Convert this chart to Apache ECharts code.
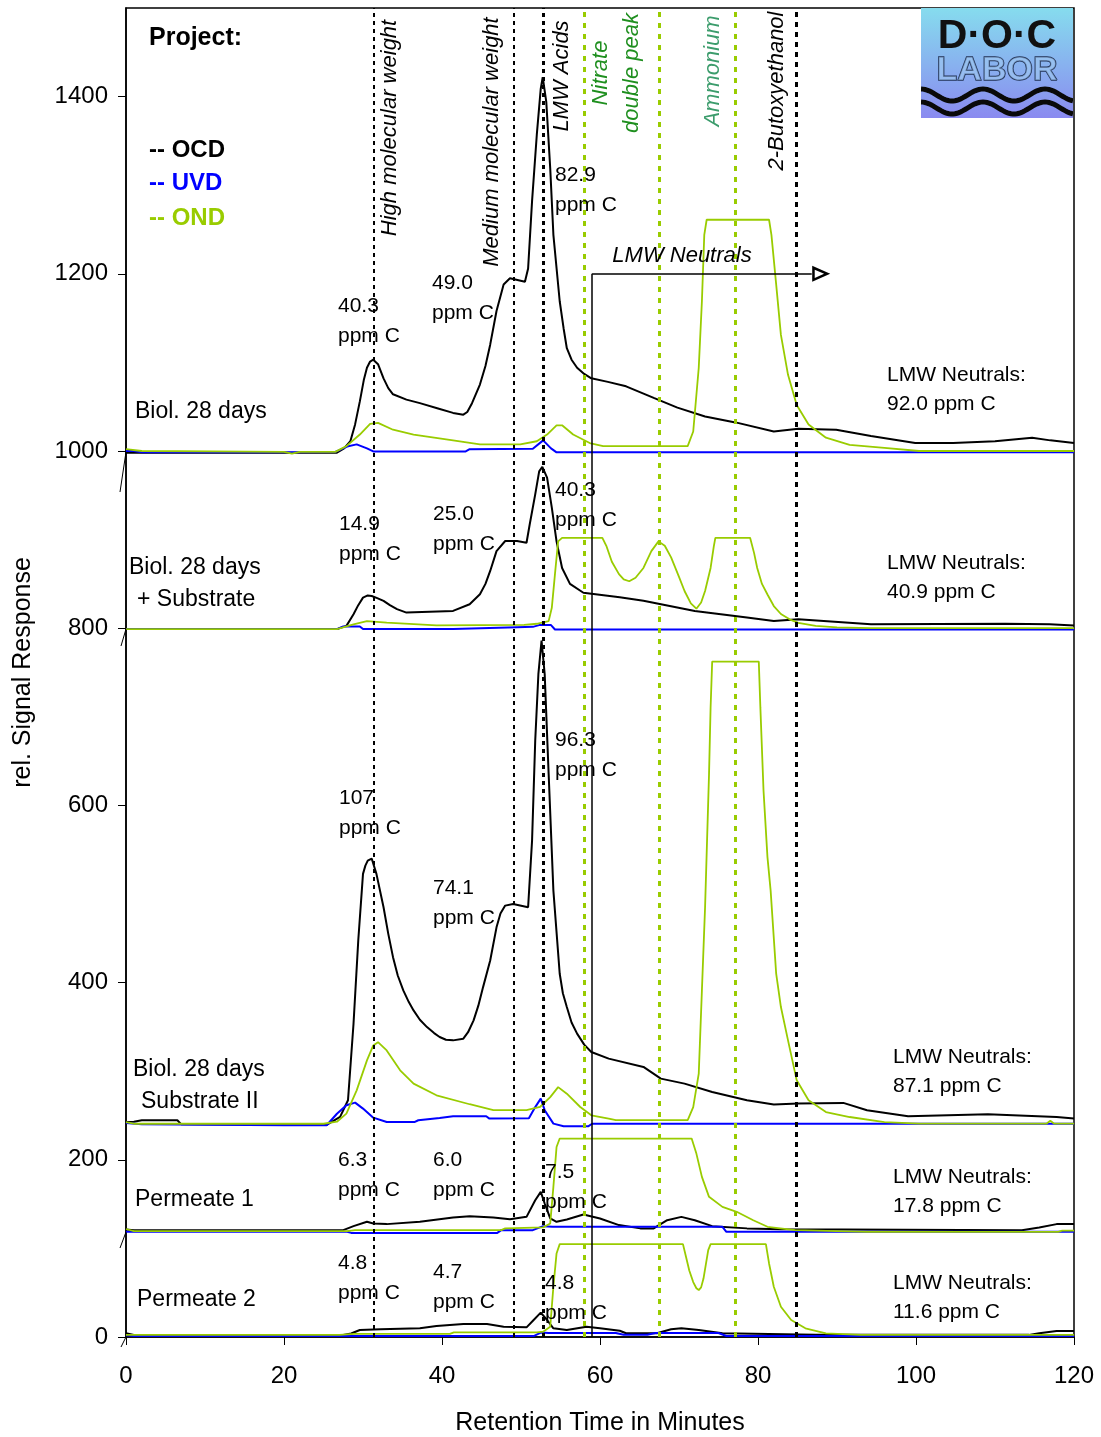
<!DOCTYPE html>
<html>
<head>
<meta charset="utf-8">
<script src="https://cdn.jsdelivr.net/npm/echarts@6/dist/echarts.min.js"></script>
<style>
  html, body { margin: 0; padding: 0; background: #fff; }
  #chart { width: 1101px; height: 1437px; }
</style>
</head>
<body>
<div id="chart"></div>
<script>
// retention time (min), signal
const biolOcd = [[0,998],[26.7,998],[27.6,1003],[28.4,1011],[29.0,1030],[29.6,1056],[30.1,1080],[30.5,1094],[30.9,1101],[31.3,1103],[31.9,1098],[32.6,1082],[33.2,1071],[33.8,1064],[35.5,1058],[37.2,1054],[39.5,1048],[41.4,1043],[42.7,1041],[43.2,1044],[43.8,1054],[44.8,1075],[45.5,1096],[46.1,1120],[46.9,1158],[47.8,1188],[48.6,1195],[50.5,1191],[50.9,1206],[51.4,1282],[52.0,1357],[52.5,1409],[52.75,1422],[53.2,1394],[53.7,1319],[54.1,1244],[54.9,1169],[55.4,1138],[55.8,1116],[56.4,1103],[57.1,1094],[58.0,1087],[58.9,1082],[61.0,1078],[63.3,1073],[66.8,1060],[69.8,1049],[73.3,1039],[77.3,1032],[82.0,1022],[85.1,1025],[89.9,1024],[94.3,1017],[99.9,1009],[104.7,1009],[110,1011],[114.7,1015],[117,1012],[120,1009]];
const biolUvd = [[0,1000],[1,1000],[2,998.5],[17,998.5],[26.5,999],[28,1005],[29.2,1007.5],[30.5,1003],[31.3,999.5],[43,999.5],[43.5,1002],[51.5,1002.5],[52.8,1012],[53.8,1003],[54.5,998.5],[120,998.5]];
const biolOnd = [[0,1002],[2,1000],[20,999],[21,997],[22,999],[26.5,999],[27.9,1005.5],[29.6,1018.6],[30.9,1030.6],[31.9,1031.7],[33.8,1024],[36.4,1018.6],[41.4,1012],[44.8,1007.4],[49.9,1007.4],[52.0,1011],[53.3,1018.6],[54.5,1029],[55.2,1029],[56.6,1018.6],[58.7,1009],[60.4,1005.5],[71.1,1005.5],[71.8,1022],[72.5,1094],[72.9,1169],[73.2,1244],[73.5,1261],[81.4,1261],[81.7,1244],[82.3,1188],[82.9,1131],[83.8,1086],[84.9,1052],[86.4,1030],[88.6,1015],[91.6,1007],[96.0,1003.6],[100.4,1000],[120,1000]];

const subOcd = [[0,799],[26.7,799],[27.9,802.6],[28.8,815.7],[29.4,826],[30.0,834.5],[30.6,837],[31.1,836.4],[31.8,834],[32.6,830.8],[33.4,826],[34.3,821.5],[35.5,817.6],[41.4,819.5],[43.5,827],[44.8,838.3],[45.5,850],[46.1,864.6],[46.9,887],[48.0,898.4],[49.5,898.4],[50.7,896.4],[51.1,917],[51.8,951],[52.3,977],[52.7,982],[53.3,970],[53.9,936],[54.5,898],[55.2,868],[56.2,850],[57.9,840],[62.5,835],[65.5,831],[72.0,819.5],[78.6,812],[82.0,808],[85.1,810],[94.3,804.4],[111.3,805],[116.9,804.4],[120,803]];
const subUvd = [[0,799],[26.7,799],[27.5,802],[29.6,802],[30,799],[41.4,799],[41.5,801],[49.5,801],[51.5,801.5],[52.3,803.5],[53.8,803.5],[54.3,798.5],[120,798.5]];
const subOnd = [[0,799],[26.7,799],[28.8,804.4],[30.5,808],[33.0,806.2],[39.3,803.3],[50.4,803.7],[52.0,805],[53.5,808],[53.9,823],[54.3,861],[54.7,898],[55.2,902],[60.3,902],[60.8,893],[61.5,875],[62.4,861],[63.0,855],[63.7,853],[64.5,857],[65.5,868],[66.5,887],[67.4,898],[68.2,893],[69.0,880],[70.0,858],[70.7,842],[71.5,828],[72.2,822],[72.8,829],[73.3,842],[74.0,868],[74.4,892],[74.6,902],[79.0,902],[79.5,885],[79.9,868],[80.5,850],[81.2,838],[82.0,825],[82.9,816],[84.0,810],[85.1,806],[87.3,802.6],[90,801],[94.3,800],[120,800]];

const sub2Ocd = [[0,242.6],[1,243],[2,244.6],[6.5,244.6],[7,240],[25.4,239.5],[27.1,248.4],[28.1,267.2],[28.8,353.6],[29.4,447.5],[30.0,522.7],[30.3,532],[30.6,537.7],[31.1,540],[31.7,522.7],[32.6,485.1],[33.2,455],[33.8,428.7],[34.4,408],[35.1,391.2],[35.8,378],[36.4,368.6],[37.2,358],[38.1,349.8],[39.0,343],[39.7,338.6],[40.5,335.5],[41.4,334.8],[42.7,336.7],[43.3,344],[44.0,357.4],[44.6,374],[45.2,394.9],[46.1,425],[46.9,462.4],[47.4,478],[48.0,486.9],[49.0,488.8],[50.9,485.1],[51.4,560.2],[51.8,672.9],[52.2,748.1],[52.6,786],[53.0,748],[53.5,635.4],[54.1,503.8],[54.9,410],[55.3,388],[55.8,372.4],[56.4,355],[57.1,342.4],[58.0,330],[58.9,321.7],[61.1,314.2],[65.5,304.8],[67.7,291.6],[70.7,286],[74.2,276.6],[78.6,267.2],[82.0,262.4],[85.1,263.5],[90.8,264.2],[93.8,256],[99.0,249.2],[109.1,251.4],[117.8,248.4],[120,246.6]];
const sub2Uvd = [[0,241.5],[2,240],[20,239],[25.4,239],[26.7,252],[27.9,261.5],[29.0,264.5],[30.0,257.8],[31.3,247.6],[33.0,242.6],[36.5,242.6],[37,244.6],[39.7,247.2],[41.4,249.1],[45.6,249.1],[46,246.5],[51.0,247],[51.8,259.5],[52.5,269],[53.0,256],[54.1,240.8],[55.4,237.8],[58.5,237.8],[59,240.7],[120,240.7]];
const sub2Ond = [[0,242.6],[1,240.7],[25,240.7],[26.7,243],[27.9,252.1],[29.2,278.4],[30.5,312.2],[31.3,329.1],[31.9,332.8],[33.0,323.5],[34.7,301],[36.4,286],[39.3,272.8],[43.5,262.7],[46.5,256],[50.7,256],[52.4,259.6],[53.7,270.8],[54.7,282],[55.8,274.6],[57.5,259.6],[58.9,250.2],[61.1,246.6],[62,244.7],[71.1,244.7],[71.8,259.5],[72.5,297.2],[72.9,391],[73.3,485],[73.8,635],[74.0,710.6],[74.2,762.3],[80.1,762.3],[80.3,710.6],[80.7,616.5],[81.2,541.3],[81.6,503.8],[82.3,410],[82.9,372.4],[83.8,334.8],[84.9,289.7],[86.4,267.2],[88.6,253.9],[91.6,248.3],[96.0,242.6],[100.4,240.8],[116.5,240.8],[117,244],[117.5,240.8],[120,240.8]];

const perm1Ocd = [[0,121.4],[1,120.6],[27.5,120.6],[28.8,125.1],[30.5,130],[31.3,128.1],[33.0,127.4],[37.2,130],[41.4,134.9],[43.5,136.4],[46.5,134.9],[48.6,133],[50.7,135.6],[51.8,154.4],[52.5,163.8],[53.0,150.7],[53.7,133.8],[54.5,130],[55.8,132.7],[57.9,138.3],[60.0,133.8],[62.4,126.3],[65.1,122.6],[66.8,122.6],[68.5,131.8],[70.3,135.6],[72.0,131.8],[74.2,125.1],[78.6,122.6],[82.9,121.5],[113.4,120.6],[115.6,123.6],[117.8,127.4],[120,127.4]];
const perm1Uvd = [[0,118.7],[28,118.7],[28.5,117.5],[47,117.5],[47.5,120.6],[51.5,120.6],[52.8,125.1],[54,124.4],[75.5,124.4],[76,118.7],[120,118.7]];
const perm1Ond = [[0,121.9],[1,119.5],[28,119.5],[29,120.6],[47.5,120.6],[48,122.6],[52.8,123.7],[53.7,128.2],[54.1,169.4],[54.5,214.5],[54.9,224],[71.6,224],[72.2,207],[72.9,180.7],[73.8,158.2],[75.5,146.9],[77.3,141.3],[79.4,131.8],[81.2,124.4],[84.7,120.6],[93.8,118.7],[118,118.7],[118.5,120],[120,120]];

const perm2Ocd = [[0,4.2],[1,2.3],[27.5,2.3],[28.5,4],[29.6,7.9],[32.2,8.7],[37.2,9.8],[39.3,12.4],[42.7,14.7],[45.7,14.7],[47.8,11.6],[50.7,10.9],[51.6,19.2],[52.5,27.5],[53.3,19.2],[54.1,9.8],[55.8,7.9],[58.3,11.6],[60.0,9.8],[62.5,7.1],[63.3,4.2],[67.2,4.2],[69.0,8.7],[70.3,9.8],[72.5,7.9],[75.5,4.2],[87.3,2.4],[114.3,2.4],[115.6,4.2],[117.8,6.8],[120,6.8]];
const perm2Uvd = [[0,2],[1,1.1],[51.6,1.1],[52.5,5],[53.5,4.5],[62,4.5],[63,2.5],[66,2.5],[67,4.5],[75,4.5],[76,1.1],[120,1.1]];
const perm2Ond = [[0,2.3],[27,2.3],[29,3.5],[41,3.5],[41.5,5.3],[52.0,5.3],[52.8,6],[53.7,11.6],[54.1,56.7],[54.5,94.3],[54.9,104.8],[70.5,104.8],[70.9,90],[71.3,75],[71.8,62],[72.2,55],[72.5,53],[72.8,56],[73.1,66],[73.4,82],[73.7,98],[74.0,104.8],[81.0,104.8],[81.4,83],[82.0,56.7],[82.9,34.2],[84.2,19.2],[86.0,9.8],[88.6,4.2],[93,2.3],[120,2.3]];

// reference lines (min)
const markerTimes = [31.3, 49.1, 52.8, 84.9];
const ionTimes = [58.0, 67.5, 77.1];
const neutralsStart = 59.0;
const neutralsEnd = 86.8;
const neutralsLevel = 1200;

const xTicks = [0, 20, 40, 60, 80, 100, 120];
const yTicks = [0, 200, 400, 600, 800, 1000, 1200, 1400];

const OCD = '#000000', UVD = '#0000ff', OND = '#99cc00';
const FONT = '"Liberation Sans", Arial, sans-serif';

const traces = [
  [biolOcd, biolUvd, biolOnd],
  [subOcd, subUvd, subOnd],
  [sub2Ocd, sub2Uvd, sub2Ond],
  [perm1Ocd, perm1Uvd, perm1Ond],
  [perm2Ocd, perm2Uvd, perm2Ond]
];

let series = [];
traces.forEach(function (t) {
  series.push({ type: 'line', data: t[0], showSymbol: false, lineStyle: { color: OCD, width: 2 }, z: 3 });
  series.push({ type: 'line', data: t[1], showSymbol: false, lineStyle: { color: UVD, width: 2 }, z: 3 });
  series.push({ type: 'line', data: t[2], showSymbol: false, lineStyle: { color: OND, width: 1.8 }, z: 3 });
});

let lineData = [
  { xAxis: markerTimes[0], lineStyle: { color: '#000', type: [4, 4], width: 2 } },
  { xAxis: markerTimes[1], lineStyle: { color: '#000', type: [4, 4], width: 2 } },
  { xAxis: markerTimes[2], lineStyle: { color: '#000', type: [4, 4], width: 3 } },
  { xAxis: markerTimes[3], lineStyle: { color: '#000', type: [5, 5], width: 3 } }
];
ionTimes.forEach(function (x) {
  lineData.push({ xAxis: x, lineStyle: { color: OND, type: [5, 6], width: 3 } });
});
lineData.push([{ coord: [neutralsStart, 0] }, { coord: [neutralsStart, neutralsLevel] }]);
lineData.push([{ coord: [neutralsStart, neutralsLevel] }, { coord: [neutralsEnd, neutralsLevel] }]);

series.push({
  type: 'line', data: [], silent: true, z: 4,
  markLine: {
    silent: true, animation: false, symbol: ['none', 'none'],
    label: { show: false },
    lineStyle: { color: '#000', type: 'solid', width: 1.5 },
    data: lineData
  },
  markPoint: {
    silent: true, animation: false, label: { show: false },
    data: [{
      coord: [88.0, neutralsLevel],
      symbol: 'path://M0 0 L10 5 L0 10 Z M1.4 2.4 L1.4 7.6 L6.6 5 Z',
      symbolSize: [18, 16],
      itemStyle: { color: '#000' }
    }]
  }
});

function txt(x, y, s, extra) {
  return {
    type: 'text', x: x, y: y, z: 100,
    style: Object.assign({ text: s, fill: '#000', font: '21px ' + FONT, align: 'left', verticalAlign: 'middle' }, extra || {})
  };
}
function vtxt(x, y, s, color) {
  return {
    type: 'text', x: x, y: y, rotation: Math.PI / 2, z: 100,
    style: { text: s, fill: color, font: 'italic 22px ' + FONT, align: 'center', verticalAlign: 'middle' }
  };
}

let g = [];
// legend block
g.push(txt(149, 38, 'Project:', { font: 'bold 25px ' + FONT }));
g.push(txt(149, 150, '-- OCD', { font: 'bold 24px ' + FONT, fill: OCD }));
g.push(txt(149, 183, '-- UVD', { font: 'bold 24px ' + FONT, fill: UVD }));
g.push(txt(149, 218, '-- OND', { font: 'bold 24px ' + FONT, fill: OND }));

// fraction names
g.push(vtxt(390, 128, 'High molecular weight', '#000'));
g.push(vtxt(492, 142, 'Medium molecular weight', '#000'));
g.push(vtxt(562, 76, 'LMW Acids', '#000'));
g.push(vtxt(601, 73, 'Nitrate', '#1f8f1f'));
g.push(vtxt(632, 73, 'double peak', '#1f8f1f'));
g.push(vtxt(713, 71, 'Ammonium', '#3c9c6c'));
g.push(vtxt(777, 91, '2-Butoxyethanol', '#000'));
g.push(txt(682, 256, 'LMW Neutrals', { font: 'italic 22px ' + FONT, align: 'center' }));

// sample names
const S23 = { font: '23px ' + FONT };
g.push(txt(135, 412, 'Biol. 28 days', S23));
g.push(txt(129, 568, 'Biol. 28 days', S23));
g.push(txt(137, 600, '+ Substrate', S23));
g.push(txt(133, 1070, 'Biol. 28 days', S23));
g.push(txt(141, 1102, 'Substrate II', S23));
g.push(txt(135, 1200, 'Permeate 1', S23));
g.push(txt(137, 1300, 'Permeate 2', S23));

// peak areas
const peakLabels = [
  [338, 306, '40.3'], [432, 283, '49.0'], [555, 175, '82.9'],
  [339, 524, '14.9'], [433, 514, '25.0'], [555, 490, '40.3'],
  [339, 798, '107'], [433, 888, '74.1'], [555, 740, '96.3'],
  [338, 1160, '6.3'], [433, 1160, '6.0'], [545, 1172, '7.5'],
  [338, 1263, '4.8'], [433, 1272, '4.7'], [545, 1283, '4.8']
];
peakLabels.forEach(function (p) {
  g.push(txt(p[0], p[1], p[2]));
  g.push(txt(p[0], p[1] + 30, 'ppm C'));
});
const neutralLabels = [[887, 375, '92.0'], [887, 563, '40.9'], [893, 1057, '87.1'], [893, 1177, '17.8'], [893, 1283, '11.6']];
neutralLabels.forEach(function (p) {
  g.push(txt(p[0], p[1], 'LMW Neutrals:'));
  g.push(txt(p[0], p[1] + 29, p[2] + ' ppm C'));
});

// axis break ticks
[[126, 452, 120, 492], [126, 629, 121, 646], [126, 1232, 120, 1248], [126, 1337, 121, 1347]].forEach(function (b) {
  g.push({ type: 'line', z: 50, shape: { x1: b[0], y1: b[1], x2: b[2], y2: b[3] }, style: { stroke: '#000', lineWidth: 1 } });
});

// logo
function wave(cy) {
  let pts = [];
  for (let x = 0; x <= 152; x += 2) pts.push([x, cy - 6 * Math.cos(2 * Math.PI * x / 62)]);
  return { type: 'polyline', shape: { points: pts }, style: { stroke: '#0a0a0a', lineWidth: 5, fill: null } };
}
g.push({
  type: 'group', x: 921, y: 8, z: 120,
  children: [
    { type: 'rect', shape: { x: 0, y: 0, width: 152, height: 110 },
      style: { fill: new echarts.graphic.LinearGradient(0, 0, 0, 1, [{ offset: 0, color: '#86dcee' }, { offset: 1, color: '#8a8af0' }]) } },
    { type: 'text', x: 76, y: 29, style: { text: 'D·O·C', font: 'bold 41px ' + FONT, fill: '#111', align: 'center', verticalAlign: 'middle' } },
    { type: 'text', x: 76, y: 63, style: { text: 'LABOR', font: 'bold 34px ' + FONT, fill: 'rgba(160,200,240,0.6)', stroke: '#1e2e50', lineWidth: 1.4, align: 'center', verticalAlign: 'middle' } },
    { type: 'group', clipPath: { type: 'rect', shape: { x: 0, y: 0, width: 152, height: 110 } }, children: [wave(87), wave(100)] }
  ]
});

const chart = echarts.init(document.getElementById('chart'), null, { renderer: 'canvas' });
chart.setOption({
  animation: false,
  backgroundColor: '#fff',
  grid: { left: 126, right: 27, top: 8, bottom: 100, show: true, borderColor: '#000', borderWidth: 1.5, containLabel: false, outerBoundsMode: 'none' },
  xAxis: {
    type: 'value', min: 0, max: 120, interval: 20,
    name: 'Retention Time in Minutes', nameLocation: 'middle', nameGap: 74,
    nameTextStyle: { fontSize: 25, color: '#000', fontFamily: FONT },
    axisLine: { lineStyle: { color: '#000', width: 1.5 } },
    axisTick: { length: 8, lineStyle: { color: '#000', width: 1 }, customValues: xTicks },
    axisLabel: { fontSize: 24, color: '#000', fontFamily: FONT, margin: 27, customValues: xTicks, formatter: function (v) { return String(v); } },
    splitLine: { show: false }
  },
  yAxis: {
    type: 'value', min: 0, max: 1500, interval: 100,
    name: 'rel. Signal Response', nameLocation: 'middle', nameGap: 90,
    nameTextStyle: { fontSize: 25, color: '#000', fontFamily: FONT },
    axisLine: { lineStyle: { color: '#000', width: 1.5 } },
    axisTick: { length: 8, lineStyle: { color: '#000', width: 1 }, customValues: yTicks },
    axisLabel: { fontSize: 24, color: '#000', fontFamily: FONT, margin: 18, customValues: yTicks, formatter: function (v) { return String(v); } },
    splitLine: { show: false }
  },
  series: series,
  graphic: g
});
</script>
</body>
</html>
